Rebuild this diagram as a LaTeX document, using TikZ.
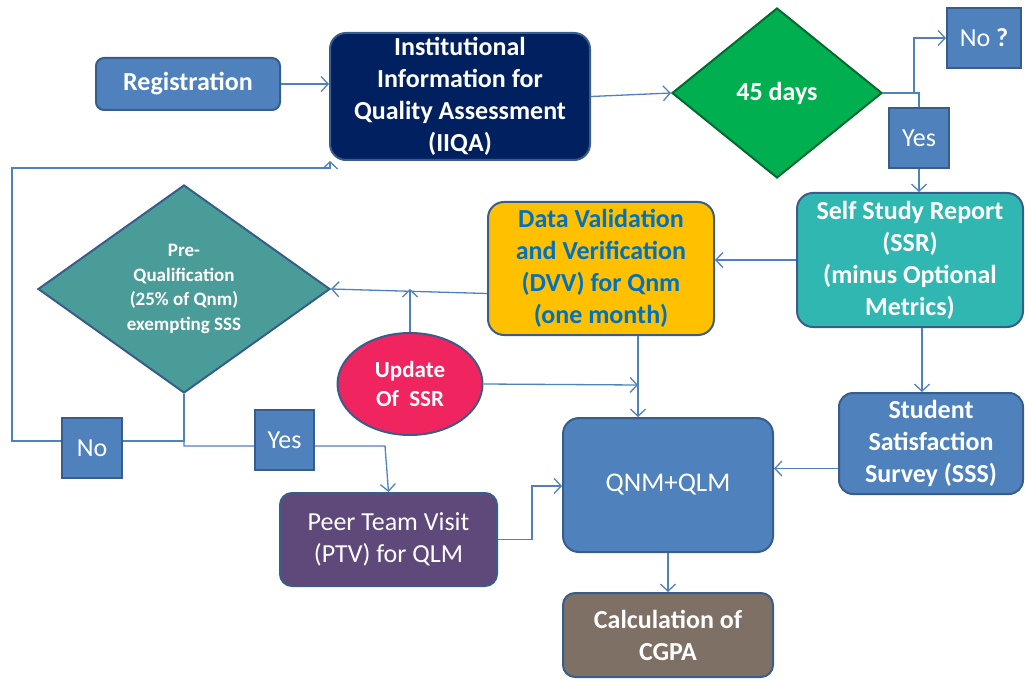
\documentclass[tikz,border=0pt]{standalone}
\usepackage{fontspec}
\setmainfont{Carlito}
\usetikzlibrary{arrows.meta,shapes.geometric,positioning}
\definecolor{boxblue}{HTML}{4F81BD}
\definecolor{boxedge}{HTML}{385D8A}
\definecolor{navy}{HTML}{002060}
\definecolor{dgreen}{HTML}{00B050}
\definecolor{sea}{HTML}{31B7B2}
\definecolor{amber}{HTML}{FFC000}
\definecolor{dvvtext}{HTML}{0070C0}
\definecolor{pqteal}{HTML}{4A9C98}
\definecolor{rosered}{HTML}{F0245F}
\definecolor{plum}{HTML}{5F497A}
\definecolor{taupe}{HTML}{7F7066}

\begin{document}
\begin{tikzpicture}[x=1pt,y=-1pt]
	\useasboundingbox (0,0) rectangle (1025,679);
	\begin{scope}[every node/.style={draw=boxedge,line width=2pt,text=white,align=center,inner sep=0pt,
		font=\fontsize{26}{32}\selectfont\bfseries}]
		\node [rounded corners=8pt,fill=boxblue,minimum width=184pt,minimum height=52pt] (reg) at (188,84) {Registration};
		\node [rounded corners=16pt,fill=navy,minimum width=260pt,minimum height=127pt] (iiqa) at (460,96.5) {Institutional\\Information for\\Quality Assessment\\(IIQA)};
		\node [diamond,shape aspect=1.24,fill=dgreen,draw=dgreen!60!black,minimum width=210pt,minimum height=170pt] (days) at (777,93) {45 days};
		\node [fill=boxblue,minimum width=74pt,minimum height=60pt,font=\fontsize{26}{32}\selectfont] (noQ) at (984,38) {No \textbf{?}};
		\node [fill=boxblue,minimum width=60pt,minimum height=60pt,font=\fontsize{26}{32}\selectfont] (yesTop) at (919,138) {Yes};
		\node [rounded corners=16pt,fill=sea,minimum width=226pt,minimum height=134pt] (ssr) at (910,260) {Self Study Report\\(SSR)\\(minus Optional\\Metrics)};
		\node [rounded corners=16pt,fill=amber,text=dvvtext,minimum width=226pt,minimum height=133pt] (dvv) at (601,268.5) {Data Validation\\and Verification\\(DVV) for Qnm\\(one month)};
		\node [diamond,shape aspect=1.4,fill=pqteal,draw=boxedge,minimum width=292pt,minimum height=208pt,
			font=\fontsize{19}{24.5}\selectfont\bfseries] (preq) at (184,289) {Pre-\\Qualification\\(25\% of Qnm)\\exempting SSS};
		\node [ellipse,fill=rosered,minimum width=145pt,minimum height=102pt,
			font=\fontsize{23}{29}\selectfont\bfseries] (upd) at (410,384) {Update\\Of~~SSR};
		\node [rounded corners=16pt,fill=boxblue,minimum width=210pt,minimum height=134pt,font=\fontsize{27}{32}\selectfont] (qnm) at (668,485) {QNM+QLM};
		\node [rounded corners=14pt,fill=boxblue,minimum width=184pt,minimum height=101pt] (sss) at (931,443.5) {Student\\Satisfaction\\Survey (SSS)};
		\node [rounded corners=12pt,fill=plum,minimum width=217pt,minimum height=93pt,font=\fontsize{26}{32}\selectfont] (ptv) at (388.5,539.5) {Peer Team Visit\\(PTV) for QLM};
		\node [rounded corners=12pt,fill=taupe,minimum width=210pt,minimum height=84pt] (cgpa) at (668,635) {Calculation of\\CGPA};
	\end{scope}

	\coordinate (split) at (914,93);
	\coordinate (loopA) at (12,441);
	\coordinate (loopB) at (12,168);
	\coordinate (merge) at (638,385);

	\begin{scope}[boxblue,line width=1.3pt,>={Straight Barb[length=7pt,width=15pt]}]
		\draw [->] (reg.east) -- (reg.east -| iiqa.west);
		\draw [->] (iiqa.east) -- (days.west);
		\draw (days.east) -| (yesTop.north);
		\draw [->] (split) |- (noQ.west);
		\draw [->] (yesTop.south) -- (yesTop.south |- ssr.north);
		\draw [->] (ssr.west) -- (ssr.west -| dvv.east);
		\draw [->] ([yshift=-25pt]dvv.west) -- (preq.east);
		\draw [->] (upd.north) -- (upd.north |- preq.east);
		\draw [->] (upd.east) -- (merge);
		\draw [->] ([xshift=37pt]dvv.south) -- ([xshift=-30pt]qnm.north);
		\draw [->] ([xshift=12pt]ssr.south) -- ([xshift=12pt]ssr.south |- sss.north);
		\draw [->] ([yshift=-25pt]sss.west) -- ([yshift=-25pt]sss.west -| qnm.east);
		\draw [->] (preq.south) |- (loopA) -- (loopB) -| ([xshift=1pt]iiqa.south west);
		\draw [->] (preq.south) |- ++(201,52) -- (ptv.north);
		\draw [->] (ptv.east) -- ++(34,0) |- ([yshift=-1pt]qnm.west);
		\draw [->] (qnm.south) -- (cgpa.north);
	\end{scope}

	\begin{scope}[every node/.style={draw=boxedge,line width=2pt,text=white,fill=boxblue,inner sep=0pt,
		font=\fontsize{26}{32}\selectfont}]
		\node [minimum width=60pt,minimum height=60pt] (noBot) at (92,448) {No};
		\node [minimum width=59pt,minimum height=60pt] (yesBot) at (284.5,440) {Yes};
	\end{scope}
\end{tikzpicture}
\end{document}
